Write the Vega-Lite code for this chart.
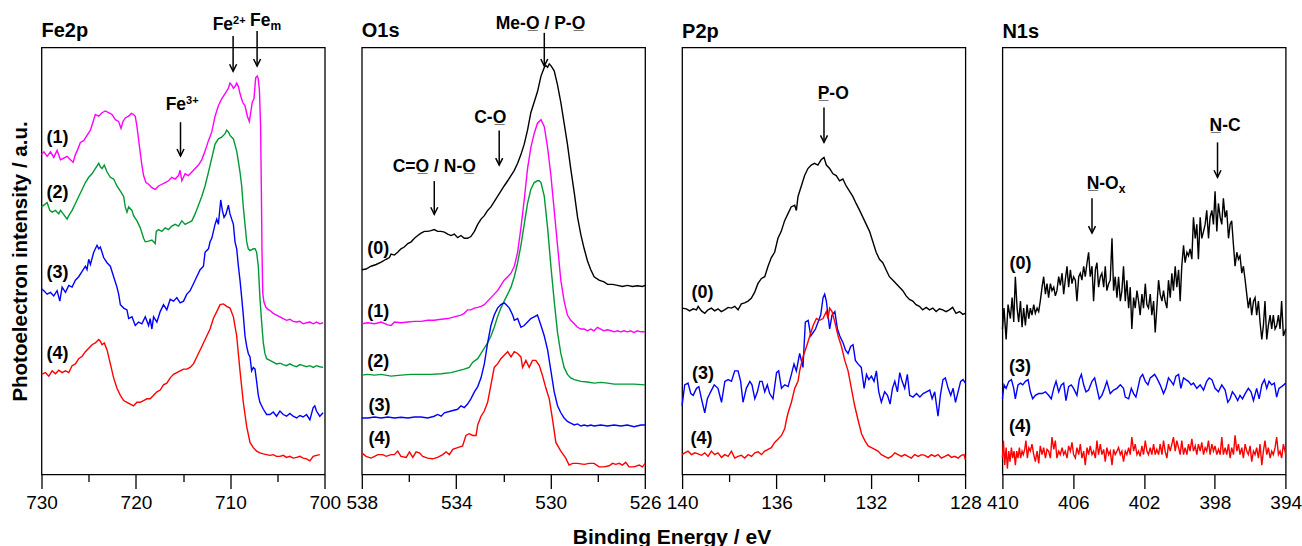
{
"$schema":"https://vega.github.io/schema/vega-lite/v6.json",
"background":"white",
"padding":{"left":9.5,"top":11.5,"right":5,"bottom":0},
"config":{"font":"Liberation Sans","view":{"stroke":"black","strokeWidth":1.3},"title":{"color":"black"},"axis":{"labelColor":"black","titleColor":"black"}},
"title":{"text":"Binding Energy / eV","orient":"bottom","anchor":"middle","fontSize":21,"fontWeight":"bold","offset":14,"dx":16},
"datasets":{
"fe":[
{"s":"1","x":730.00,"y":917},{"s":"1","x":729.75,"y":925},{"s":"1","x":729.40,"y":912},{"s":"1","x":729.05,"y":925},{"s":"1","x":728.70,"y":909},{"s":"1","x":728.35,"y":929},{"s":"1","x":727.99,"y":902},{"s":"1","x":727.64,"y":907},{"s":"1","x":727.29,"y":912},{"s":"1","x":726.94,"y":902},{"s":"1","x":726.65,"y":895},{"s":"1","x":726.41,"y":917},{"s":"1","x":726.16,"y":932},{"s":"1","x":725.88,"y":952},{"s":"1","x":725.53,"y":957},{"s":"1","x":725.18,"y":972},{"s":"1","x":724.82,"y":987},{"s":"1","x":724.47,"y":1017},{"s":"1","x":724.30,"y":1032},{"s":"1","x":723.94,"y":1027},{"s":"1","x":723.59,"y":1037},{"s":"1","x":723.24,"y":1042},{"s":"1","x":722.89,"y":1037},{"s":"1","x":722.54,"y":1032},{"s":"1","x":722.18,"y":1017},{"s":"1","x":721.83,"y":1012},{"s":"1","x":721.58,"y":992},{"s":"1","x":721.37,"y":1012},{"s":"1","x":721.13,"y":1022},{"s":"1","x":720.77,"y":1027},{"s":"1","x":720.49,"y":1035},{"s":"1","x":720.25,"y":1032},{"s":"1","x":720.07,"y":1027},{"s":"1","x":719.89,"y":997},{"s":"1","x":719.61,"y":937},{"s":"1","x":719.37,"y":887},{"s":"1","x":719.19,"y":857},{"s":"1","x":718.94,"y":837},{"s":"1","x":718.66,"y":832},{"s":"1","x":718.31,"y":822},{"s":"1","x":717.96,"y":817},{"s":"1","x":717.61,"y":827},{"s":"1","x":717.25,"y":832},{"s":"1","x":716.90,"y":837},{"s":"1","x":716.55,"y":842},{"s":"1","x":716.20,"y":852},{"s":"1","x":715.85,"y":847},{"s":"1","x":715.49,"y":857},{"s":"1","x":715.32,"y":872},{"s":"1","x":715.14,"y":842},{"s":"1","x":714.79,"y":862},{"s":"1","x":714.44,"y":857},{"s":"1","x":714.08,"y":867},{"s":"1","x":713.73,"y":877},{"s":"1","x":713.38,"y":887},{"s":"1","x":713.03,"y":902},{"s":"1","x":712.68,"y":927},{"s":"1","x":712.32,"y":957},{"s":"1","x":711.97,"y":982},{"s":"1","x":711.62,"y":1027},{"s":"1","x":711.27,"y":1057},{"s":"1","x":710.92,"y":1077},{"s":"1","x":710.56,"y":1092},{"s":"1","x":710.21,"y":1107},{"s":"1","x":710.04,"y":1122},{"s":"1","x":709.86,"y":1117},{"s":"1","x":709.68,"y":1107},{"s":"1","x":709.51,"y":1112},{"s":"1","x":709.33,"y":1122},{"s":"1","x":709.15,"y":1112},{"s":"1","x":708.98,"y":1092},{"s":"1","x":708.70,"y":1067},{"s":"1","x":708.45,"y":1057},{"s":"1","x":708.20,"y":1027},{"s":"1","x":707.99,"y":1012},{"s":"1","x":707.85,"y":1037},{"s":"1","x":707.68,"y":1067},{"s":"1","x":707.50,"y":1077},{"s":"1","x":707.32,"y":1137},{"s":"1","x":707.15,"y":1142},{"s":"1","x":707.05,"y":1135},{"s":"1","x":706.92,"y":1100},{"s":"1","x":706.80,"y":1000},{"s":"1","x":706.72,"y":820},{"s":"1","x":706.65,"y":640},{"s":"1","x":706.57,"y":520},{"s":"1","x":706.45,"y":495},{"s":"1","x":706.25,"y":480},{"s":"1","x":706.05,"y":474},{"s":"1","x":705.81,"y":470},{"s":"1","x":705.46,"y":462},{"s":"1","x":705.11,"y":457},{"s":"1","x":704.75,"y":452},{"s":"1","x":704.40,"y":447},{"s":"1","x":704.05,"y":442},{"s":"1","x":703.70,"y":445},{"s":"1","x":703.35,"y":439},{"s":"1","x":702.99,"y":437},{"s":"1","x":702.64,"y":439},{"s":"1","x":702.29,"y":432},{"s":"1","x":701.94,"y":435},{"s":"1","x":701.58,"y":437},{"s":"1","x":701.23,"y":432},{"s":"1","x":700.88,"y":437},{"s":"1","x":700.53,"y":432},{"s":"1","x":700.18,"y":435},
{"s":"2","x":730.00,"y":767},{"s":"2","x":729.75,"y":772},{"s":"2","x":729.40,"y":779},{"s":"2","x":729.12,"y":757},{"s":"2","x":728.87,"y":752},{"s":"2","x":728.52,"y":757},{"s":"2","x":728.17,"y":747},{"s":"2","x":727.99,"y":757},{"s":"2","x":727.64,"y":745},{"s":"2","x":727.29,"y":732},{"s":"2","x":727.11,"y":742},{"s":"2","x":726.76,"y":757},{"s":"2","x":726.41,"y":777},{"s":"2","x":726.06,"y":797},{"s":"2","x":725.70,"y":817},{"s":"2","x":725.35,"y":837},{"s":"2","x":725.00,"y":852},{"s":"2","x":724.65,"y":862},{"s":"2","x":724.30,"y":877},{"s":"2","x":723.94,"y":892},{"s":"2","x":723.77,"y":882},{"s":"2","x":723.59,"y":877},{"s":"2","x":723.35,"y":887},{"s":"2","x":723.06,"y":867},{"s":"2","x":722.71,"y":852},{"s":"2","x":722.36,"y":847},{"s":"2","x":722.01,"y":827},{"s":"2","x":721.65,"y":812},{"s":"2","x":721.30,"y":797},{"s":"2","x":721.13,"y":767},{"s":"2","x":720.95,"y":752},{"s":"2","x":720.77,"y":767},{"s":"2","x":720.42,"y":757},{"s":"2","x":720.25,"y":742},{"s":"2","x":719.89,"y":727},{"s":"2","x":719.54,"y":707},{"s":"2","x":719.19,"y":677},{"s":"2","x":719.01,"y":667},{"s":"2","x":718.66,"y":669},{"s":"2","x":718.31,"y":672},{"s":"2","x":717.96,"y":662},{"s":"2","x":717.85,"y":697},{"s":"2","x":717.61,"y":702},{"s":"2","x":717.25,"y":697},{"s":"2","x":716.90,"y":707},{"s":"2","x":716.55,"y":702},{"s":"2","x":716.20,"y":712},{"s":"2","x":715.85,"y":717},{"s":"2","x":715.49,"y":712},{"s":"2","x":715.14,"y":727},{"s":"2","x":714.79,"y":717},{"s":"2","x":714.44,"y":722},{"s":"2","x":714.08,"y":727},{"s":"2","x":713.73,"y":747},{"s":"2","x":713.38,"y":772},{"s":"2","x":713.03,"y":797},{"s":"2","x":712.68,"y":827},{"s":"2","x":712.32,"y":867},{"s":"2","x":711.97,"y":907},{"s":"2","x":711.62,"y":947},{"s":"2","x":711.27,"y":962},{"s":"2","x":710.92,"y":967},{"s":"2","x":710.56,"y":977},{"s":"2","x":710.39,"y":987},{"s":"2","x":710.21,"y":982},{"s":"2","x":710.04,"y":972},{"s":"2","x":709.68,"y":962},{"s":"2","x":709.33,"y":927},{"s":"2","x":709.15,"y":897},{"s":"2","x":708.98,"y":867},{"s":"2","x":708.80,"y":827},{"s":"2","x":708.63,"y":767},{"s":"2","x":708.45,"y":717},{"s":"2","x":708.27,"y":667},{"s":"2","x":708.10,"y":647},{"s":"2","x":707.92,"y":642},{"s":"2","x":707.57,"y":647},{"s":"2","x":707.39,"y":647},{"s":"2","x":707.22,"y":637},{"s":"2","x":707.04,"y":597},{"s":"2","x":706.87,"y":507},{"s":"2","x":706.69,"y":437},{"s":"2","x":706.51,"y":377},{"s":"2","x":706.34,"y":347},{"s":"2","x":706.16,"y":332},{"s":"2","x":705.81,"y":327},{"s":"2","x":705.46,"y":322},{"s":"2","x":705.11,"y":317},{"s":"2","x":704.75,"y":319},{"s":"2","x":704.40,"y":315},{"s":"2","x":704.05,"y":312},{"s":"2","x":703.70,"y":317},{"s":"2","x":703.35,"y":312},{"s":"2","x":702.99,"y":309},{"s":"2","x":702.64,"y":315},{"s":"2","x":702.29,"y":312},{"s":"2","x":701.94,"y":309},{"s":"2","x":701.58,"y":312},{"s":"2","x":701.23,"y":307},{"s":"2","x":700.88,"y":312},{"s":"2","x":700.53,"y":309},{"s":"2","x":700.18,"y":307},
{"s":"3","x":730.00,"y":532},{"s":"3","x":729.75,"y":527},{"s":"3","x":729.40,"y":517},{"s":"3","x":729.05,"y":522},{"s":"3","x":728.70,"y":512},{"s":"3","x":728.35,"y":527},{"s":"3","x":728.06,"y":497},{"s":"3","x":727.82,"y":537},{"s":"3","x":727.46,"y":522},{"s":"3","x":727.11,"y":542},{"s":"3","x":726.76,"y":537},{"s":"3","x":726.41,"y":557},{"s":"3","x":726.06,"y":567},{"s":"3","x":725.70,"y":582},{"s":"3","x":725.35,"y":597},{"s":"3","x":725.18,"y":587},{"s":"3","x":725.00,"y":617},{"s":"3","x":724.82,"y":602},{"s":"3","x":724.47,"y":637},{"s":"3","x":724.12,"y":657},{"s":"3","x":723.94,"y":647},{"s":"3","x":723.77,"y":652},{"s":"3","x":723.59,"y":637},{"s":"3","x":723.42,"y":622},{"s":"3","x":723.06,"y":607},{"s":"3","x":722.71,"y":597},{"s":"3","x":722.36,"y":567},{"s":"3","x":722.01,"y":537},{"s":"3","x":721.83,"y":517},{"s":"3","x":721.65,"y":487},{"s":"3","x":721.30,"y":477},{"s":"3","x":720.95,"y":472},{"s":"3","x":720.77,"y":447},{"s":"3","x":720.42,"y":452},{"s":"3","x":720.07,"y":427},{"s":"3","x":719.72,"y":437},{"s":"3","x":719.37,"y":432},{"s":"3","x":719.01,"y":452},{"s":"3","x":718.66,"y":427},{"s":"3","x":718.49,"y":447},{"s":"3","x":718.31,"y":417},{"s":"3","x":718.13,"y":452},{"s":"3","x":717.78,"y":437},{"s":"3","x":717.43,"y":467},{"s":"3","x":717.08,"y":487},{"s":"3","x":716.73,"y":472},{"s":"3","x":716.37,"y":502},{"s":"3","x":716.02,"y":497},{"s":"3","x":715.67,"y":507},{"s":"3","x":715.32,"y":492},{"s":"3","x":714.96,"y":497},{"s":"3","x":714.61,"y":517},{"s":"3","x":714.26,"y":527},{"s":"3","x":713.91,"y":547},{"s":"3","x":713.56,"y":567},{"s":"3","x":713.20,"y":587},{"s":"3","x":712.85,"y":597},{"s":"3","x":712.68,"y":637},{"s":"3","x":712.32,"y":647},{"s":"3","x":712.15,"y":667},{"s":"3","x":711.97,"y":677},{"s":"3","x":711.62,"y":717},{"s":"3","x":711.44,"y":732},{"s":"3","x":711.27,"y":717},{"s":"3","x":711.02,"y":787},{"s":"3","x":710.85,"y":757},{"s":"3","x":710.67,"y":737},{"s":"3","x":710.46,"y":747},{"s":"3","x":710.21,"y":772},{"s":"3","x":710.04,"y":747},{"s":"3","x":709.86,"y":732},{"s":"3","x":709.68,"y":717},{"s":"3","x":709.51,"y":667},{"s":"3","x":709.33,"y":647},{"s":"3","x":709.15,"y":597},{"s":"3","x":708.98,"y":557},{"s":"3","x":708.80,"y":507},{"s":"3","x":708.63,"y":457},{"s":"3","x":708.45,"y":397},{"s":"3","x":708.27,"y":367},{"s":"3","x":708.10,"y":347},{"s":"3","x":707.92,"y":337},{"s":"3","x":707.75,"y":297},{"s":"3","x":707.57,"y":307},{"s":"3","x":707.39,"y":302},{"s":"3","x":707.22,"y":267},{"s":"3","x":707.04,"y":227},{"s":"3","x":706.87,"y":207},{"s":"3","x":706.51,"y":187},{"s":"3","x":706.16,"y":172},{"s":"3","x":705.81,"y":172},{"s":"3","x":705.46,"y":179},{"s":"3","x":705.11,"y":167},{"s":"3","x":704.75,"y":182},{"s":"3","x":704.40,"y":172},{"s":"3","x":704.05,"y":167},{"s":"3","x":703.70,"y":175},{"s":"3","x":703.35,"y":167},{"s":"3","x":702.99,"y":162},{"s":"3","x":702.64,"y":169},{"s":"3","x":702.29,"y":165},{"s":"3","x":701.94,"y":172},{"s":"3","x":701.58,"y":157},{"s":"3","x":701.23,"y":192},{"s":"3","x":701.06,"y":197},{"s":"3","x":700.88,"y":182},{"s":"3","x":700.53,"y":167},{"s":"3","x":700.18,"y":177},
{"s":"4","x":730.00,"y":287},{"s":"4","x":729.58,"y":292},{"s":"4","x":729.23,"y":282},{"s":"4","x":728.87,"y":297},{"s":"4","x":728.52,"y":289},{"s":"4","x":728.17,"y":299},{"s":"4","x":727.82,"y":292},{"s":"4","x":727.46,"y":297},{"s":"4","x":727.11,"y":292},{"s":"4","x":726.76,"y":312},{"s":"4","x":726.41,"y":317},{"s":"4","x":726.06,"y":332},{"s":"4","x":725.70,"y":339},{"s":"4","x":725.35,"y":352},{"s":"4","x":725.00,"y":362},{"s":"4","x":724.65,"y":372},{"s":"4","x":724.30,"y":377},{"s":"4","x":723.94,"y":387},{"s":"4","x":723.77,"y":382},{"s":"4","x":723.59,"y":372},{"s":"4","x":723.35,"y":377},{"s":"4","x":723.06,"y":357},{"s":"4","x":722.71,"y":317},{"s":"4","x":722.36,"y":277},{"s":"4","x":722.01,"y":247},{"s":"4","x":721.65,"y":227},{"s":"4","x":721.30,"y":212},{"s":"4","x":720.95,"y":207},{"s":"4","x":720.60,"y":202},{"s":"4","x":720.25,"y":197},{"s":"4","x":719.89,"y":207},{"s":"4","x":719.54,"y":207},{"s":"4","x":719.19,"y":212},{"s":"4","x":718.84,"y":217},{"s":"4","x":718.49,"y":217},{"s":"4","x":718.13,"y":227},{"s":"4","x":717.78,"y":237},{"s":"4","x":717.43,"y":242},{"s":"4","x":717.08,"y":257},{"s":"4","x":716.73,"y":262},{"s":"4","x":716.37,"y":277},{"s":"4","x":716.02,"y":287},{"s":"4","x":715.67,"y":292},{"s":"4","x":715.32,"y":297},{"s":"4","x":714.96,"y":302},{"s":"4","x":714.61,"y":302},{"s":"4","x":714.26,"y":307},{"s":"4","x":713.91,"y":317},{"s":"4","x":713.56,"y":337},{"s":"4","x":713.20,"y":357},{"s":"4","x":712.85,"y":377},{"s":"4","x":712.50,"y":397},{"s":"4","x":712.15,"y":417},{"s":"4","x":711.80,"y":447},{"s":"4","x":711.44,"y":467},{"s":"4","x":711.09,"y":487},{"s":"4","x":710.74,"y":489},{"s":"4","x":710.39,"y":482},{"s":"4","x":710.04,"y":477},{"s":"4","x":709.68,"y":452},{"s":"4","x":709.33,"y":397},{"s":"4","x":708.98,"y":297},{"s":"4","x":708.63,"y":207},{"s":"4","x":708.27,"y":137},{"s":"4","x":707.92,"y":92},{"s":"4","x":707.57,"y":77},{"s":"4","x":707.22,"y":67},{"s":"4","x":706.87,"y":62},{"s":"4","x":706.51,"y":59},{"s":"4","x":706.16,"y":57},{"s":"4","x":705.81,"y":55},{"s":"4","x":705.46,"y":57},{"s":"4","x":705.11,"y":52},{"s":"4","x":704.75,"y":52},{"s":"4","x":704.40,"y":55},{"s":"4","x":704.05,"y":49},{"s":"4","x":703.70,"y":52},{"s":"4","x":703.35,"y":47},{"s":"4","x":702.99,"y":49},{"s":"4","x":702.64,"y":52},{"s":"4","x":702.29,"y":47},{"s":"4","x":701.94,"y":45},{"s":"4","x":701.58,"y":39},{"s":"4","x":701.23,"y":52},{"s":"4","x":700.88,"y":55},{"s":"4","x":700.53,"y":57}
],
"o":[
{"s":"0","x":538.00,"y":587},{"s":"0","x":537.82,"y":589},{"s":"0","x":537.61,"y":597},{"s":"0","x":537.39,"y":602},{"s":"0","x":537.18,"y":609},{"s":"0","x":536.97,"y":617},{"s":"0","x":536.83,"y":622},{"s":"0","x":536.76,"y":632},{"s":"0","x":536.62,"y":629},{"s":"0","x":536.48,"y":637},{"s":"0","x":536.34,"y":647},{"s":"0","x":536.20,"y":652},{"s":"0","x":536.05,"y":662},{"s":"0","x":535.91,"y":667},{"s":"0","x":535.77,"y":677},{"s":"0","x":535.63,"y":685},{"s":"0","x":535.49,"y":692},{"s":"0","x":535.35,"y":697},{"s":"0","x":535.21,"y":697},{"s":"0","x":535.07,"y":699},{"s":"0","x":534.93,"y":702},{"s":"0","x":534.79,"y":697},{"s":"0","x":534.64,"y":697},{"s":"0","x":534.50,"y":695},{"s":"0","x":534.36,"y":689},{"s":"0","x":534.22,"y":685},{"s":"0","x":534.08,"y":689},{"s":"0","x":533.94,"y":679},{"s":"0","x":533.80,"y":685},{"s":"0","x":533.66,"y":677},{"s":"0","x":533.52,"y":677},{"s":"0","x":533.38,"y":682},{"s":"0","x":533.23,"y":697},{"s":"0","x":533.09,"y":717},{"s":"0","x":532.95,"y":732},{"s":"0","x":532.81,"y":742},{"s":"0","x":532.67,"y":757},{"s":"0","x":532.53,"y":767},{"s":"0","x":532.39,"y":782},{"s":"0","x":532.25,"y":797},{"s":"0","x":532.11,"y":812},{"s":"0","x":531.97,"y":827},{"s":"0","x":531.82,"y":842},{"s":"0","x":531.68,"y":857},{"s":"0","x":531.54,"y":872},{"s":"0","x":531.40,"y":892},{"s":"0","x":531.26,"y":917},{"s":"0","x":531.12,"y":947},{"s":"0","x":530.98,"y":987},{"s":"0","x":530.84,"y":1037},{"s":"0","x":530.70,"y":1067},{"s":"0","x":530.56,"y":1097},{"s":"0","x":530.41,"y":1142},{"s":"0","x":530.27,"y":1167},{"s":"0","x":530.20,"y":1172},{"s":"0","x":530.13,"y":1167},{"s":"0","x":530.06,"y":1177},{"s":"0","x":529.99,"y":1172},{"s":"0","x":529.85,"y":1157},{"s":"0","x":529.71,"y":1117},{"s":"0","x":529.57,"y":1067},{"s":"0","x":529.43,"y":1007},{"s":"0","x":529.29,"y":947},{"s":"0","x":529.15,"y":877},{"s":"0","x":529.00,"y":807},{"s":"0","x":528.86,"y":737},{"s":"0","x":528.72,"y":687},{"s":"0","x":528.58,"y":647},{"s":"0","x":528.44,"y":612},{"s":"0","x":528.30,"y":587},{"s":"0","x":528.16,"y":567},{"s":"0","x":527.95,"y":557},{"s":"0","x":527.74,"y":552},{"s":"0","x":527.59,"y":545},{"s":"0","x":527.38,"y":545},{"s":"0","x":527.17,"y":542},{"s":"0","x":526.96,"y":539},{"s":"0","x":526.75,"y":542},{"s":"0","x":526.54,"y":539},{"s":"0","x":526.33,"y":541},{"s":"0","x":526.11,"y":539},{"s":"0","x":526.00,"y":542},
{"s":"1","x":538.00,"y":432},{"s":"1","x":537.75,"y":435},{"s":"1","x":537.46,"y":432},{"s":"1","x":537.18,"y":437},{"s":"1","x":536.90,"y":429},{"s":"1","x":536.76,"y":427},{"s":"1","x":536.62,"y":437},{"s":"1","x":536.34,"y":435},{"s":"1","x":536.05,"y":437},{"s":"1","x":535.77,"y":439},{"s":"1","x":535.49,"y":439},{"s":"1","x":535.21,"y":442},{"s":"1","x":534.93,"y":442},{"s":"1","x":534.64,"y":445},{"s":"1","x":534.36,"y":447},{"s":"1","x":534.08,"y":452},{"s":"1","x":533.80,"y":457},{"s":"1","x":533.66,"y":462},{"s":"1","x":533.52,"y":472},{"s":"1","x":533.38,"y":472},{"s":"1","x":533.23,"y":477},{"s":"1","x":533.09,"y":479},{"s":"1","x":532.95,"y":482},{"s":"1","x":532.81,"y":487},{"s":"1","x":532.67,"y":497},{"s":"1","x":532.53,"y":507},{"s":"1","x":532.39,"y":517},{"s":"1","x":532.25,"y":527},{"s":"1","x":532.11,"y":542},{"s":"1","x":531.97,"y":557},{"s":"1","x":531.82,"y":567},{"s":"1","x":531.68,"y":577},{"s":"1","x":531.54,"y":597},{"s":"1","x":531.40,"y":637},{"s":"1","x":531.26,"y":707},{"s":"1","x":531.12,"y":787},{"s":"1","x":530.98,"y":877},{"s":"1","x":530.84,"y":937},{"s":"1","x":530.70,"y":977},{"s":"1","x":530.56,"y":1007},{"s":"1","x":530.41,"y":1017},{"s":"1","x":530.27,"y":997},{"s":"1","x":530.13,"y":937},{"s":"1","x":529.99,"y":857},{"s":"1","x":529.85,"y":757},{"s":"1","x":529.71,"y":657},{"s":"1","x":529.57,"y":557},{"s":"1","x":529.43,"y":497},{"s":"1","x":529.29,"y":457},{"s":"1","x":529.15,"y":442},{"s":"1","x":529.00,"y":432},{"s":"1","x":528.86,"y":422},{"s":"1","x":528.72,"y":417},{"s":"1","x":528.58,"y":417},{"s":"1","x":528.44,"y":412},{"s":"1","x":528.30,"y":417},{"s":"1","x":528.16,"y":412},{"s":"1","x":528.02,"y":422},{"s":"1","x":527.88,"y":417},{"s":"1","x":527.74,"y":412},{"s":"1","x":527.59,"y":415},{"s":"1","x":527.45,"y":412},{"s":"1","x":527.31,"y":409},{"s":"1","x":527.17,"y":412},{"s":"1","x":527.03,"y":409},{"s":"1","x":526.89,"y":412},{"s":"1","x":526.75,"y":409},{"s":"1","x":526.61,"y":412},{"s":"1","x":526.47,"y":407},{"s":"1","x":526.33,"y":412},{"s":"1","x":526.18,"y":409},{"s":"1","x":526.00,"y":409},
{"s":"2","x":538.00,"y":285},{"s":"2","x":537.75,"y":287},{"s":"2","x":537.46,"y":285},{"s":"2","x":537.18,"y":287},{"s":"2","x":536.76,"y":282},{"s":"2","x":536.34,"y":285},{"s":"2","x":535.91,"y":287},{"s":"2","x":535.49,"y":287},{"s":"2","x":535.07,"y":287},{"s":"2","x":534.64,"y":289},{"s":"2","x":534.22,"y":292},{"s":"2","x":533.94,"y":297},{"s":"2","x":533.66,"y":302},{"s":"2","x":533.45,"y":307},{"s":"2","x":533.30,"y":322},{"s":"2","x":533.09,"y":332},{"s":"2","x":532.95,"y":347},{"s":"2","x":532.81,"y":362},{"s":"2","x":532.67,"y":377},{"s":"2","x":532.53,"y":397},{"s":"2","x":532.39,"y":422},{"s":"2","x":532.25,"y":452},{"s":"2","x":532.11,"y":477},{"s":"2","x":531.97,"y":497},{"s":"2","x":531.82,"y":517},{"s":"2","x":531.68,"y":537},{"s":"2","x":531.54,"y":567},{"s":"2","x":531.40,"y":607},{"s":"2","x":531.26,"y":657},{"s":"2","x":531.12,"y":717},{"s":"2","x":530.98,"y":777},{"s":"2","x":530.84,"y":817},{"s":"2","x":530.70,"y":837},{"s":"2","x":530.56,"y":842},{"s":"2","x":530.48,"y":842},{"s":"2","x":530.41,"y":837},{"s":"2","x":530.27,"y":797},{"s":"2","x":530.13,"y":707},{"s":"2","x":529.99,"y":597},{"s":"2","x":529.85,"y":497},{"s":"2","x":529.71,"y":407},{"s":"2","x":529.57,"y":347},{"s":"2","x":529.43,"y":307},{"s":"2","x":529.29,"y":287},{"s":"2","x":529.15,"y":277},{"s":"2","x":529.00,"y":272},{"s":"2","x":528.72,"y":267},{"s":"2","x":528.44,"y":265},{"s":"2","x":528.16,"y":262},{"s":"2","x":527.88,"y":264},{"s":"2","x":527.59,"y":262},{"s":"2","x":527.31,"y":259},{"s":"2","x":526.89,"y":259},{"s":"2","x":526.47,"y":259},{"s":"2","x":526.00,"y":257},
{"s":"3","x":538.00,"y":162},{"s":"3","x":537.75,"y":162},{"s":"3","x":537.46,"y":165},{"s":"3","x":537.18,"y":162},{"s":"3","x":536.90,"y":165},{"s":"3","x":536.62,"y":162},{"s":"3","x":536.34,"y":164},{"s":"3","x":536.05,"y":162},{"s":"3","x":535.77,"y":165},{"s":"3","x":535.49,"y":165},{"s":"3","x":535.21,"y":162},{"s":"3","x":534.93,"y":167},{"s":"3","x":534.79,"y":172},{"s":"3","x":534.64,"y":167},{"s":"3","x":534.50,"y":177},{"s":"3","x":534.22,"y":182},{"s":"3","x":533.94,"y":187},{"s":"3","x":533.80,"y":197},{"s":"3","x":533.66,"y":192},{"s":"3","x":533.52,"y":202},{"s":"3","x":533.38,"y":217},{"s":"3","x":533.23,"y":237},{"s":"3","x":533.09,"y":252},{"s":"3","x":532.95,"y":277},{"s":"3","x":532.81,"y":317},{"s":"3","x":532.67,"y":377},{"s":"3","x":532.53,"y":427},{"s":"3","x":532.39,"y":457},{"s":"3","x":532.25,"y":477},{"s":"3","x":532.11,"y":487},{"s":"3","x":531.97,"y":492},{"s":"3","x":531.89,"y":487},{"s":"3","x":531.75,"y":477},{"s":"3","x":531.61,"y":457},{"s":"3","x":531.54,"y":442},{"s":"3","x":531.40,"y":447},{"s":"3","x":531.26,"y":422},{"s":"3","x":531.12,"y":427},{"s":"3","x":530.98,"y":437},{"s":"3","x":530.84,"y":447},{"s":"3","x":530.70,"y":452},{"s":"3","x":530.56,"y":457},{"s":"3","x":530.41,"y":427},{"s":"3","x":530.27,"y":397},{"s":"3","x":530.13,"y":357},{"s":"3","x":529.99,"y":297},{"s":"3","x":529.85,"y":237},{"s":"3","x":529.71,"y":197},{"s":"3","x":529.57,"y":177},{"s":"3","x":529.43,"y":162},{"s":"3","x":529.29,"y":152},{"s":"3","x":529.15,"y":147},{"s":"3","x":529.00,"y":142},{"s":"3","x":528.86,"y":145},{"s":"3","x":528.72,"y":139},{"s":"3","x":528.58,"y":142},{"s":"3","x":528.44,"y":139},{"s":"3","x":528.30,"y":142},{"s":"3","x":528.16,"y":139},{"s":"3","x":527.88,"y":142},{"s":"3","x":527.59,"y":139},{"s":"3","x":527.31,"y":142},{"s":"3","x":527.03,"y":139},{"s":"3","x":526.75,"y":142},{"s":"3","x":526.47,"y":137},{"s":"3","x":526.18,"y":142},{"s":"3","x":526.00,"y":142},
{"s":"4","x":538.00,"y":62},{"s":"4","x":537.82,"y":52},{"s":"4","x":537.61,"y":47},{"s":"4","x":537.46,"y":52},{"s":"4","x":537.32,"y":57},{"s":"4","x":537.11,"y":57},{"s":"4","x":536.97,"y":52},{"s":"4","x":536.76,"y":57},{"s":"4","x":536.62,"y":57},{"s":"4","x":536.48,"y":67},{"s":"4","x":536.34,"y":52},{"s":"4","x":536.12,"y":49},{"s":"4","x":535.98,"y":65},{"s":"4","x":535.84,"y":49},{"s":"4","x":535.70,"y":65},{"s":"4","x":535.56,"y":62},{"s":"4","x":535.42,"y":52},{"s":"4","x":535.21,"y":47},{"s":"4","x":535.00,"y":45},{"s":"4","x":534.79,"y":49},{"s":"4","x":534.57,"y":57},{"s":"4","x":534.43,"y":65},{"s":"4","x":534.29,"y":57},{"s":"4","x":534.15,"y":72},{"s":"4","x":533.94,"y":77},{"s":"4","x":533.73,"y":82},{"s":"4","x":533.59,"y":112},{"s":"4","x":533.45,"y":117},{"s":"4","x":533.30,"y":112},{"s":"4","x":533.16,"y":112},{"s":"4","x":533.09,"y":142},{"s":"4","x":532.95,"y":167},{"s":"4","x":532.81,"y":182},{"s":"4","x":532.67,"y":207},{"s":"4","x":532.53,"y":257},{"s":"4","x":532.39,"y":307},{"s":"4","x":532.25,"y":317},{"s":"4","x":532.11,"y":332},{"s":"4","x":531.97,"y":342},{"s":"4","x":531.82,"y":352},{"s":"4","x":531.68,"y":337},{"s":"4","x":531.54,"y":352},{"s":"4","x":531.40,"y":347},{"s":"4","x":531.26,"y":337},{"s":"4","x":531.19,"y":307},{"s":"4","x":531.05,"y":327},{"s":"4","x":530.91,"y":307},{"s":"4","x":530.77,"y":327},{"s":"4","x":530.63,"y":327},{"s":"4","x":530.48,"y":312},{"s":"4","x":530.34,"y":282},{"s":"4","x":530.20,"y":247},{"s":"4","x":530.06,"y":217},{"s":"4","x":529.92,"y":157},{"s":"4","x":529.78,"y":92},{"s":"4","x":529.57,"y":67},{"s":"4","x":529.36,"y":47},{"s":"4","x":529.22,"y":27},{"s":"4","x":529.07,"y":32},{"s":"4","x":528.86,"y":32},{"s":"4","x":528.58,"y":29},{"s":"4","x":528.37,"y":32},{"s":"4","x":528.16,"y":32},{"s":"4","x":527.95,"y":22},{"s":"4","x":527.74,"y":22},{"s":"4","x":527.52,"y":25},{"s":"4","x":527.38,"y":32},{"s":"4","x":527.24,"y":29},{"s":"4","x":527.10,"y":32},{"s":"4","x":526.96,"y":27},{"s":"4","x":526.82,"y":35},{"s":"4","x":526.68,"y":22},{"s":"4","x":526.47,"y":22},{"s":"4","x":526.25,"y":27},{"s":"4","x":526.11,"y":22},{"s":"4","x":526.00,"y":32}
],
"p":[
{"s":"0","x":140.00,"y":477},{"s":"0","x":139.82,"y":475},{"s":"0","x":139.68,"y":469},{"s":"0","x":139.53,"y":475},{"s":"0","x":139.39,"y":472},{"s":"0","x":139.32,"y":482},{"s":"0","x":139.18,"y":469},{"s":"0","x":139.04,"y":462},{"s":"0","x":138.90,"y":472},{"s":"0","x":138.76,"y":477},{"s":"0","x":138.62,"y":469},{"s":"0","x":138.48,"y":475},{"s":"0","x":138.34,"y":467},{"s":"0","x":138.20,"y":472},{"s":"0","x":138.05,"y":479},{"s":"0","x":137.91,"y":477},{"s":"0","x":137.77,"y":482},{"s":"0","x":137.63,"y":472},{"s":"0","x":137.49,"y":489},{"s":"0","x":137.35,"y":492},{"s":"0","x":137.21,"y":497},{"s":"0","x":137.07,"y":505},{"s":"0","x":136.93,"y":522},{"s":"0","x":136.79,"y":547},{"s":"0","x":136.64,"y":562},{"s":"0","x":136.50,"y":567},{"s":"0","x":136.36,"y":597},{"s":"0","x":136.22,"y":622},{"s":"0","x":136.08,"y":637},{"s":"0","x":135.94,"y":677},{"s":"0","x":135.80,"y":697},{"s":"0","x":135.66,"y":727},{"s":"0","x":135.52,"y":747},{"s":"0","x":135.38,"y":767},{"s":"0","x":135.23,"y":772},{"s":"0","x":135.16,"y":757},{"s":"0","x":135.09,"y":797},{"s":"0","x":134.95,"y":827},{"s":"0","x":134.81,"y":857},{"s":"0","x":134.67,"y":877},{"s":"0","x":134.53,"y":887},{"s":"0","x":134.39,"y":892},{"s":"0","x":134.25,"y":887},{"s":"0","x":134.11,"y":902},{"s":"0","x":133.99,"y":909},{"s":"0","x":133.89,"y":887},{"s":"0","x":133.75,"y":877},{"s":"0","x":133.61,"y":862},{"s":"0","x":133.47,"y":857},{"s":"0","x":133.33,"y":842},{"s":"0","x":133.19,"y":847},{"s":"0","x":133.05,"y":827},{"s":"0","x":132.91,"y":812},{"s":"0","x":132.77,"y":797},{"s":"0","x":132.63,"y":777},{"s":"0","x":132.48,"y":757},{"s":"0","x":132.34,"y":737},{"s":"0","x":132.20,"y":717},{"s":"0","x":132.06,"y":697},{"s":"0","x":131.92,"y":667},{"s":"0","x":131.78,"y":637},{"s":"0","x":131.64,"y":617},{"s":"0","x":131.50,"y":607},{"s":"0","x":131.36,"y":587},{"s":"0","x":131.22,"y":567},{"s":"0","x":131.07,"y":557},{"s":"0","x":130.93,"y":547},{"s":"0","x":130.79,"y":537},{"s":"0","x":130.65,"y":527},{"s":"0","x":130.51,"y":512},{"s":"0","x":130.37,"y":502},{"s":"0","x":130.23,"y":497},{"s":"0","x":130.09,"y":487},{"s":"0","x":129.95,"y":482},{"s":"0","x":129.81,"y":472},{"s":"0","x":129.66,"y":479},{"s":"0","x":129.52,"y":472},{"s":"0","x":129.38,"y":477},{"s":"0","x":129.24,"y":467},{"s":"0","x":129.10,"y":475},{"s":"0","x":128.96,"y":472},{"s":"0","x":128.82,"y":467},{"s":"0","x":128.68,"y":472},{"s":"0","x":128.54,"y":479},{"s":"0","x":128.40,"y":462},{"s":"0","x":128.25,"y":467},{"s":"0","x":128.11,"y":459},{"s":"0","x":128.00,"y":462},
{"s":"3","x":140.00,"y":197},{"s":"3","x":139.89,"y":257},{"s":"3","x":139.75,"y":262},{"s":"3","x":139.63,"y":232},{"s":"3","x":139.53,"y":227},{"s":"3","x":139.39,"y":247},{"s":"3","x":139.29,"y":252},{"s":"3","x":139.18,"y":217},{"s":"3","x":139.04,"y":177},{"s":"3","x":138.93,"y":217},{"s":"3","x":138.79,"y":237},{"s":"3","x":138.64,"y":257},{"s":"3","x":138.48,"y":247},{"s":"3","x":138.33,"y":207},{"s":"3","x":138.19,"y":267},{"s":"3","x":138.05,"y":272},{"s":"3","x":137.91,"y":267},{"s":"3","x":137.77,"y":297},{"s":"3","x":137.63,"y":297},{"s":"3","x":137.52,"y":267},{"s":"3","x":137.42,"y":207},{"s":"3","x":137.28,"y":247},{"s":"3","x":137.13,"y":267},{"s":"3","x":137.04,"y":257},{"s":"3","x":136.92,"y":217},{"s":"3","x":136.81,"y":237},{"s":"3","x":136.71,"y":267},{"s":"3","x":136.61,"y":267},{"s":"3","x":136.50,"y":237},{"s":"3","x":136.39,"y":257},{"s":"3","x":136.29,"y":232},{"s":"3","x":136.15,"y":217},{"s":"3","x":136.00,"y":292},{"s":"3","x":135.91,"y":297},{"s":"3","x":135.79,"y":247},{"s":"3","x":135.65,"y":257},{"s":"3","x":135.51,"y":252},{"s":"3","x":135.37,"y":287},{"s":"3","x":135.26,"y":317},{"s":"3","x":135.16,"y":297},{"s":"3","x":135.02,"y":347},{"s":"3","x":134.88,"y":307},{"s":"3","x":134.78,"y":437},{"s":"3","x":134.66,"y":442},{"s":"3","x":134.55,"y":397},{"s":"3","x":134.45,"y":407},{"s":"3","x":134.35,"y":417},{"s":"3","x":134.24,"y":437},{"s":"3","x":134.13,"y":457},{"s":"3","x":134.03,"y":507},{"s":"3","x":133.96,"y":517},{"s":"3","x":133.89,"y":497},{"s":"3","x":133.82,"y":457},{"s":"3","x":133.75,"y":417},{"s":"3","x":133.65,"y":457},{"s":"3","x":133.53,"y":467},{"s":"3","x":133.42,"y":417},{"s":"3","x":133.32,"y":397},{"s":"3","x":133.18,"y":377},{"s":"3","x":133.08,"y":357},{"s":"3","x":132.97,"y":347},{"s":"3","x":132.86,"y":367},{"s":"3","x":132.76,"y":372},{"s":"3","x":132.66,"y":327},{"s":"3","x":132.55,"y":317},{"s":"3","x":132.41,"y":307},{"s":"3","x":132.29,"y":247},{"s":"3","x":132.19,"y":287},{"s":"3","x":132.09,"y":272},{"s":"3","x":131.98,"y":282},{"s":"3","x":131.87,"y":267},{"s":"3","x":131.77,"y":297},{"s":"3","x":131.67,"y":237},{"s":"3","x":131.56,"y":207},{"s":"3","x":131.42,"y":237},{"s":"3","x":131.30,"y":227},{"s":"3","x":131.19,"y":202},{"s":"3","x":131.09,"y":247},{"s":"3","x":130.99,"y":267},{"s":"3","x":130.88,"y":237},{"s":"3","x":130.78,"y":292},{"s":"3","x":130.68,"y":267},{"s":"3","x":130.57,"y":247},{"s":"3","x":130.46,"y":287},{"s":"3","x":130.36,"y":227},{"s":"3","x":130.22,"y":222},{"s":"3","x":130.07,"y":232},{"s":"3","x":129.93,"y":222},{"s":"3","x":129.79,"y":232},{"s":"3","x":129.65,"y":237},{"s":"3","x":129.51,"y":242},{"s":"3","x":129.41,"y":217},{"s":"3","x":129.30,"y":237},{"s":"3","x":129.16,"y":167},{"s":"3","x":129.06,"y":227},{"s":"3","x":128.95,"y":272},{"s":"3","x":128.85,"y":277},{"s":"3","x":128.73,"y":247},{"s":"3","x":128.62,"y":227},{"s":"3","x":128.52,"y":247},{"s":"3","x":128.42,"y":207},{"s":"3","x":128.31,"y":237},{"s":"3","x":128.20,"y":267},{"s":"3","x":128.10,"y":272},{"s":"3","x":128.00,"y":262},
{"s":"4","x":140.00,"y":57},{"s":"4","x":139.89,"y":62},{"s":"4","x":139.75,"y":67},{"s":"4","x":139.60,"y":57},{"s":"4","x":139.46,"y":62},{"s":"4","x":139.32,"y":59},{"s":"4","x":139.18,"y":55},{"s":"4","x":139.04,"y":62},{"s":"4","x":138.90,"y":52},{"s":"4","x":138.76,"y":67},{"s":"4","x":138.62,"y":57},{"s":"4","x":138.48,"y":62},{"s":"4","x":138.33,"y":49},{"s":"4","x":138.19,"y":57},{"s":"4","x":138.05,"y":52},{"s":"4","x":137.91,"y":67},{"s":"4","x":137.77,"y":47},{"s":"4","x":137.63,"y":52},{"s":"4","x":137.49,"y":55},{"s":"4","x":137.35,"y":47},{"s":"4","x":137.20,"y":57},{"s":"4","x":137.06,"y":52},{"s":"4","x":136.92,"y":62},{"s":"4","x":136.78,"y":65},{"s":"4","x":136.64,"y":57},{"s":"4","x":136.50,"y":67},{"s":"4","x":136.36,"y":72},{"s":"4","x":136.22,"y":77},{"s":"4","x":136.08,"y":92},{"s":"4","x":135.93,"y":102},{"s":"4","x":135.79,"y":112},{"s":"4","x":135.65,"y":132},{"s":"4","x":135.58,"y":157},{"s":"4","x":135.51,"y":177},{"s":"4","x":135.37,"y":207},{"s":"4","x":135.23,"y":247},{"s":"4","x":135.09,"y":267},{"s":"4","x":135.02,"y":297},{"s":"4","x":134.88,"y":337},{"s":"4","x":134.73,"y":367},{"s":"4","x":134.59,"y":397},{"s":"4","x":134.45,"y":427},{"s":"4","x":134.31,"y":447},{"s":"4","x":134.17,"y":442},{"s":"4","x":134.03,"y":447},{"s":"4","x":133.96,"y":457},{"s":"4","x":133.89,"y":467},{"s":"4","x":133.82,"y":447},{"s":"4","x":133.75,"y":477},{"s":"4","x":133.65,"y":467},{"s":"4","x":133.53,"y":437},{"s":"4","x":133.39,"y":397},{"s":"4","x":133.25,"y":367},{"s":"4","x":133.11,"y":327},{"s":"4","x":132.97,"y":297},{"s":"4","x":132.83,"y":247},{"s":"4","x":132.69,"y":197},{"s":"4","x":132.55,"y":157},{"s":"4","x":132.40,"y":117},{"s":"4","x":132.26,"y":97},{"s":"4","x":132.12,"y":82},{"s":"4","x":131.98,"y":77},{"s":"4","x":131.84,"y":72},{"s":"4","x":131.70,"y":67},{"s":"4","x":131.56,"y":57},{"s":"4","x":131.42,"y":52},{"s":"4","x":131.27,"y":47},{"s":"4","x":131.13,"y":52},{"s":"4","x":130.99,"y":62},{"s":"4","x":130.85,"y":57},{"s":"4","x":130.71,"y":52},{"s":"4","x":130.57,"y":57},{"s":"4","x":130.43,"y":52},{"s":"4","x":130.29,"y":47},{"s":"4","x":130.15,"y":57},{"s":"4","x":130.00,"y":52},{"s":"4","x":129.86,"y":57},{"s":"4","x":129.72,"y":55},{"s":"4","x":129.58,"y":49},{"s":"4","x":129.44,"y":57},{"s":"4","x":129.30,"y":52},{"s":"4","x":129.16,"y":57},{"s":"4","x":129.02,"y":47},{"s":"4","x":128.87,"y":52},{"s":"4","x":128.73,"y":57},{"s":"4","x":128.59,"y":49},{"s":"4","x":128.45,"y":52},{"s":"4","x":128.31,"y":47},{"s":"4","x":128.17,"y":55},{"s":"4","x":128.06,"y":57},{"s":"4","x":128.00,"y":42}
],
"n":[
{"s":"0","x":410.00,"y":417},{"s":"0","x":409.91,"y":477},{"s":"0","x":409.79,"y":387},{"s":"0","x":409.68,"y":487},{"s":"0","x":409.55,"y":447},{"s":"0","x":409.45,"y":507},{"s":"0","x":409.36,"y":437},{"s":"0","x":409.27,"y":567},{"s":"0","x":409.17,"y":477},{"s":"0","x":409.08,"y":437},{"s":"0","x":408.98,"y":497},{"s":"0","x":408.89,"y":422},{"s":"0","x":408.80,"y":477},{"s":"0","x":408.70,"y":427},{"s":"0","x":408.61,"y":487},{"s":"0","x":408.51,"y":447},{"s":"0","x":408.42,"y":477},{"s":"0","x":408.33,"y":457},{"s":"0","x":408.23,"y":487},{"s":"0","x":408.14,"y":462},{"s":"0","x":408.04,"y":477},{"s":"0","x":407.95,"y":467},{"s":"0","x":407.86,"y":497},{"s":"0","x":407.76,"y":537},{"s":"0","x":407.67,"y":567},{"s":"0","x":407.57,"y":517},{"s":"0","x":407.48,"y":547},{"s":"0","x":407.39,"y":507},{"s":"0","x":407.29,"y":547},{"s":"0","x":407.20,"y":527},{"s":"0","x":407.10,"y":537},{"s":"0","x":407.01,"y":512},{"s":"0","x":406.92,"y":527},{"s":"0","x":406.82,"y":567},{"s":"0","x":406.73,"y":542},{"s":"0","x":406.63,"y":577},{"s":"0","x":406.54,"y":517},{"s":"0","x":406.45,"y":557},{"s":"0","x":406.35,"y":597},{"s":"0","x":406.26,"y":537},{"s":"0","x":406.16,"y":587},{"s":"0","x":406.07,"y":547},{"s":"0","x":405.98,"y":567},{"s":"0","x":405.88,"y":557},{"s":"0","x":405.79,"y":497},{"s":"0","x":405.69,"y":567},{"s":"0","x":405.60,"y":577},{"s":"0","x":405.51,"y":557},{"s":"0","x":405.41,"y":597},{"s":"0","x":405.32,"y":567},{"s":"0","x":405.22,"y":607},{"s":"0","x":405.13,"y":637},{"s":"0","x":405.04,"y":567},{"s":"0","x":404.94,"y":597},{"s":"0","x":404.85,"y":497},{"s":"0","x":404.75,"y":587},{"s":"0","x":404.66,"y":607},{"s":"0","x":404.57,"y":537},{"s":"0","x":404.47,"y":567},{"s":"0","x":404.38,"y":577},{"s":"0","x":404.28,"y":537},{"s":"0","x":404.19,"y":597},{"s":"0","x":404.10,"y":527},{"s":"0","x":404.00,"y":547},{"s":"0","x":403.91,"y":557},{"s":"0","x":403.81,"y":677},{"s":"0","x":403.72,"y":527},{"s":"0","x":403.63,"y":567},{"s":"0","x":403.53,"y":507},{"s":"0","x":403.44,"y":567},{"s":"0","x":403.34,"y":497},{"s":"0","x":403.25,"y":527},{"s":"0","x":403.16,"y":597},{"s":"0","x":403.06,"y":497},{"s":"0","x":402.97,"y":557},{"s":"0","x":402.87,"y":477},{"s":"0","x":402.78,"y":537},{"s":"0","x":402.69,"y":417},{"s":"0","x":402.59,"y":507},{"s":"0","x":402.50,"y":477},{"s":"0","x":402.40,"y":527},{"s":"0","x":402.31,"y":497},{"s":"0","x":402.22,"y":457},{"s":"0","x":402.12,"y":517},{"s":"0","x":402.03,"y":477},{"s":"0","x":401.93,"y":547},{"s":"0","x":401.84,"y":487},{"s":"0","x":401.75,"y":477},{"s":"0","x":401.65,"y":517},{"s":"0","x":401.56,"y":457},{"s":"0","x":401.46,"y":497},{"s":"0","x":401.37,"y":407},{"s":"0","x":401.28,"y":477},{"s":"0","x":401.18,"y":557},{"s":"0","x":401.09,"y":517},{"s":"0","x":400.99,"y":497},{"s":"0","x":400.90,"y":527},{"s":"0","x":400.81,"y":497},{"s":"0","x":400.71,"y":477},{"s":"0","x":400.62,"y":557},{"s":"0","x":400.52,"y":507},{"s":"0","x":400.43,"y":577},{"s":"0","x":400.34,"y":527},{"s":"0","x":400.24,"y":597},{"s":"0","x":400.15,"y":537},{"s":"0","x":400.05,"y":587},{"s":"0","x":399.96,"y":497},{"s":"0","x":399.87,"y":597},{"s":"0","x":399.77,"y":657},{"s":"0","x":399.68,"y":607},{"s":"0","x":399.58,"y":637},{"s":"0","x":399.49,"y":627},{"s":"0","x":399.40,"y":647},{"s":"0","x":399.30,"y":617},{"s":"0","x":399.21,"y":737},{"s":"0","x":399.11,"y":677},{"s":"0","x":399.02,"y":717},{"s":"0","x":398.93,"y":617},{"s":"0","x":398.83,"y":737},{"s":"0","x":398.74,"y":677},{"s":"0","x":398.64,"y":697},{"s":"0","x":398.55,"y":717},{"s":"0","x":398.46,"y":757},{"s":"0","x":398.36,"y":677},{"s":"0","x":398.27,"y":737},{"s":"0","x":398.17,"y":757},{"s":"0","x":398.08,"y":717},{"s":"0","x":397.99,"y":812},{"s":"0","x":397.89,"y":697},{"s":"0","x":397.80,"y":777},{"s":"0","x":397.70,"y":737},{"s":"0","x":397.61,"y":717},{"s":"0","x":397.52,"y":792},{"s":"0","x":397.42,"y":737},{"s":"0","x":397.33,"y":757},{"s":"0","x":397.23,"y":677},{"s":"0","x":397.14,"y":717},{"s":"0","x":397.05,"y":727},{"s":"0","x":396.95,"y":657},{"s":"0","x":396.86,"y":597},{"s":"0","x":396.76,"y":637},{"s":"0","x":396.67,"y":617},{"s":"0","x":396.58,"y":627},{"s":"0","x":396.48,"y":577},{"s":"0","x":396.39,"y":597},{"s":"0","x":396.29,"y":557},{"s":"0","x":396.20,"y":517},{"s":"0","x":396.11,"y":477},{"s":"0","x":396.01,"y":507},{"s":"0","x":395.92,"y":457},{"s":"0","x":395.82,"y":497},{"s":"0","x":395.73,"y":507},{"s":"0","x":395.64,"y":457},{"s":"0","x":395.54,"y":497},{"s":"0","x":395.45,"y":437},{"s":"0","x":395.35,"y":387},{"s":"0","x":395.26,"y":427},{"s":"0","x":395.17,"y":497},{"s":"0","x":395.07,"y":387},{"s":"0","x":394.98,"y":427},{"s":"0","x":394.88,"y":457},{"s":"0","x":394.79,"y":417},{"s":"0","x":394.70,"y":457},{"s":"0","x":394.60,"y":417},{"s":"0","x":394.51,"y":427},{"s":"0","x":394.41,"y":457},{"s":"0","x":394.32,"y":417},{"s":"0","x":394.23,"y":497},{"s":"0","x":394.13,"y":397},{"s":"0","x":394.00,"y":417},
{"s":"3","x":410.00,"y":217},{"s":"3","x":409.91,"y":257},{"s":"3","x":409.79,"y":247},{"s":"3","x":409.64,"y":267},{"s":"3","x":409.49,"y":272},{"s":"3","x":409.36,"y":247},{"s":"3","x":409.27,"y":217},{"s":"3","x":409.12,"y":257},{"s":"3","x":408.98,"y":262},{"s":"3","x":408.85,"y":257},{"s":"3","x":408.70,"y":267},{"s":"3","x":408.55,"y":272},{"s":"3","x":408.42,"y":237},{"s":"3","x":408.29,"y":217},{"s":"3","x":408.14,"y":227},{"s":"3","x":407.95,"y":232},{"s":"3","x":407.76,"y":232},{"s":"3","x":407.57,"y":237},{"s":"3","x":407.39,"y":227},{"s":"3","x":407.24,"y":217},{"s":"3","x":407.10,"y":247},{"s":"3","x":406.97,"y":267},{"s":"3","x":406.82,"y":237},{"s":"3","x":406.67,"y":257},{"s":"3","x":406.54,"y":262},{"s":"3","x":406.41,"y":212},{"s":"3","x":406.26,"y":252},{"s":"3","x":406.11,"y":257},{"s":"3","x":405.98,"y":247},{"s":"3","x":405.79,"y":227},{"s":"3","x":405.66,"y":272},{"s":"3","x":405.54,"y":287},{"s":"3","x":405.41,"y":257},{"s":"3","x":405.28,"y":237},{"s":"3","x":405.13,"y":242},{"s":"3","x":404.94,"y":267},{"s":"3","x":404.79,"y":277},{"s":"3","x":404.66,"y":247},{"s":"3","x":404.53,"y":217},{"s":"3","x":404.38,"y":227},{"s":"3","x":404.23,"y":247},{"s":"3","x":404.10,"y":267},{"s":"3","x":403.91,"y":232},{"s":"3","x":403.72,"y":242},{"s":"3","x":403.53,"y":247},{"s":"3","x":403.34,"y":257},{"s":"3","x":403.16,"y":247},{"s":"3","x":403.06,"y":222},{"s":"3","x":402.87,"y":217},{"s":"3","x":402.72,"y":247},{"s":"3","x":402.59,"y":232},{"s":"3","x":402.46,"y":222},{"s":"3","x":402.35,"y":247},{"s":"3","x":402.22,"y":277},{"s":"3","x":402.08,"y":287},{"s":"3","x":401.93,"y":267},{"s":"3","x":401.78,"y":257},{"s":"3","x":401.65,"y":277},{"s":"3","x":401.52,"y":282},{"s":"3","x":401.41,"y":287},{"s":"3","x":401.28,"y":277},{"s":"3","x":401.09,"y":257},{"s":"3","x":400.90,"y":232},{"s":"3","x":400.77,"y":247},{"s":"3","x":400.62,"y":277},{"s":"3","x":400.47,"y":267},{"s":"3","x":400.34,"y":257},{"s":"3","x":400.20,"y":282},{"s":"3","x":400.05,"y":287},{"s":"3","x":399.92,"y":247},{"s":"3","x":399.77,"y":277},{"s":"3","x":399.64,"y":272},{"s":"3","x":399.49,"y":267},{"s":"3","x":399.34,"y":257},{"s":"3","x":399.21,"y":262},{"s":"3","x":399.02,"y":247},{"s":"3","x":398.83,"y":257},{"s":"3","x":398.64,"y":242},{"s":"3","x":398.46,"y":267},{"s":"3","x":398.32,"y":277},{"s":"3","x":398.17,"y":272},{"s":"3","x":397.99,"y":247},{"s":"3","x":397.80,"y":237},{"s":"3","x":397.61,"y":257},{"s":"3","x":397.42,"y":242},{"s":"3","x":397.27,"y":207},{"s":"3","x":397.14,"y":217},{"s":"3","x":397.01,"y":237},{"s":"3","x":396.86,"y":227},{"s":"3","x":396.71,"y":212},{"s":"3","x":396.58,"y":227},{"s":"3","x":396.44,"y":217},{"s":"3","x":396.29,"y":232},{"s":"3","x":396.11,"y":247},{"s":"3","x":395.96,"y":237},{"s":"3","x":395.82,"y":212},{"s":"3","x":395.64,"y":247},{"s":"3","x":395.50,"y":217},{"s":"3","x":395.35,"y":257},{"s":"3","x":395.20,"y":272},{"s":"3","x":395.07,"y":247},{"s":"3","x":394.94,"y":267},{"s":"3","x":394.79,"y":257},{"s":"3","x":394.64,"y":262},{"s":"3","x":394.51,"y":222},{"s":"3","x":394.38,"y":247},{"s":"3","x":394.23,"y":252},{"s":"3","x":394.11,"y":257},{"s":"3","x":394.00,"y":262},
{"s":"4","x":410.00,"y":47},{"s":"4","x":409.94,"y":97},{"s":"4","x":409.87,"y":27},{"s":"4","x":409.79,"y":77},{"s":"4","x":409.72,"y":17},{"s":"4","x":409.64,"y":67},{"s":"4","x":409.57,"y":37},{"s":"4","x":409.49,"y":77},{"s":"4","x":409.42,"y":47},{"s":"4","x":409.34,"y":67},{"s":"4","x":409.27,"y":27},{"s":"4","x":409.19,"y":67},{"s":"4","x":409.12,"y":47},{"s":"4","x":409.04,"y":77},{"s":"4","x":408.97,"y":47},{"s":"4","x":408.89,"y":67},{"s":"4","x":408.82,"y":57},{"s":"4","x":408.74,"y":72},{"s":"4","x":408.67,"y":97},{"s":"4","x":408.59,"y":47},{"s":"4","x":408.51,"y":77},{"s":"4","x":408.42,"y":67},{"s":"4","x":408.33,"y":87},{"s":"4","x":408.23,"y":57},{"s":"4","x":408.14,"y":37},{"s":"4","x":408.04,"y":67},{"s":"4","x":407.95,"y":32},{"s":"4","x":407.86,"y":82},{"s":"4","x":407.76,"y":57},{"s":"4","x":407.67,"y":77},{"s":"4","x":407.57,"y":47},{"s":"4","x":407.48,"y":72},{"s":"4","x":407.39,"y":67},{"s":"4","x":407.29,"y":47},{"s":"4","x":407.20,"y":107},{"s":"4","x":407.10,"y":72},{"s":"4","x":407.01,"y":97},{"s":"4","x":406.92,"y":47},{"s":"4","x":406.82,"y":67},{"s":"4","x":406.73,"y":57},{"s":"4","x":406.63,"y":77},{"s":"4","x":406.54,"y":57},{"s":"4","x":406.45,"y":67},{"s":"4","x":406.35,"y":47},{"s":"4","x":406.26,"y":82},{"s":"4","x":406.16,"y":67},{"s":"4","x":406.07,"y":92},{"s":"4","x":405.98,"y":57},{"s":"4","x":405.88,"y":47},{"s":"4","x":405.79,"y":77},{"s":"4","x":405.69,"y":57},{"s":"4","x":405.60,"y":87},{"s":"4","x":405.51,"y":47},{"s":"4","x":405.41,"y":67},{"s":"4","x":405.32,"y":27},{"s":"4","x":405.22,"y":77},{"s":"4","x":405.13,"y":57},{"s":"4","x":405.04,"y":82},{"s":"4","x":404.94,"y":57},{"s":"4","x":404.85,"y":67},{"s":"4","x":404.75,"y":47},{"s":"4","x":404.66,"y":97},{"s":"4","x":404.57,"y":57},{"s":"4","x":404.47,"y":87},{"s":"4","x":404.38,"y":57},{"s":"4","x":404.28,"y":72},{"s":"4","x":404.19,"y":37},{"s":"4","x":404.10,"y":77},{"s":"4","x":404.00,"y":57},{"s":"4","x":403.91,"y":67},{"s":"4","x":403.81,"y":27},{"s":"4","x":403.72,"y":72},{"s":"4","x":403.63,"y":57},{"s":"4","x":403.53,"y":67},{"s":"4","x":403.44,"y":77},{"s":"4","x":403.34,"y":57},{"s":"4","x":403.25,"y":67},{"s":"4","x":403.16,"y":37},{"s":"4","x":403.06,"y":67},{"s":"4","x":402.97,"y":57},{"s":"4","x":402.87,"y":77},{"s":"4","x":402.78,"y":57},{"s":"4","x":402.69,"y":107},{"s":"4","x":402.59,"y":67},{"s":"4","x":402.50,"y":87},{"s":"4","x":402.40,"y":57},{"s":"4","x":402.31,"y":67},{"s":"4","x":402.22,"y":52},{"s":"4","x":402.12,"y":82},{"s":"4","x":402.03,"y":57},{"s":"4","x":401.93,"y":97},{"s":"4","x":401.84,"y":67},{"s":"4","x":401.75,"y":57},{"s":"4","x":401.65,"y":77},{"s":"4","x":401.56,"y":57},{"s":"4","x":401.46,"y":87},{"s":"4","x":401.37,"y":57},{"s":"4","x":401.28,"y":72},{"s":"4","x":401.18,"y":57},{"s":"4","x":401.09,"y":87},{"s":"4","x":400.99,"y":57},{"s":"4","x":400.90,"y":97},{"s":"4","x":400.81,"y":67},{"s":"4","x":400.71,"y":47},{"s":"4","x":400.62,"y":87},{"s":"4","x":400.52,"y":67},{"s":"4","x":400.43,"y":87},{"s":"4","x":400.34,"y":107},{"s":"4","x":400.24,"y":67},{"s":"4","x":400.15,"y":97},{"s":"4","x":400.05,"y":77},{"s":"4","x":399.96,"y":57},{"s":"4","x":399.87,"y":97},{"s":"4","x":399.77,"y":57},{"s":"4","x":399.68,"y":77},{"s":"4","x":399.58,"y":57},{"s":"4","x":399.49,"y":87},{"s":"4","x":399.40,"y":67},{"s":"4","x":399.30,"y":102},{"s":"4","x":399.21,"y":67},{"s":"4","x":399.11,"y":82},{"s":"4","x":399.02,"y":57},{"s":"4","x":398.93,"y":87},{"s":"4","x":398.83,"y":67},{"s":"4","x":398.74,"y":92},{"s":"4","x":398.64,"y":57},{"s":"4","x":398.55,"y":77},{"s":"4","x":398.46,"y":67},{"s":"4","x":398.36,"y":97},{"s":"4","x":398.27,"y":57},{"s":"4","x":398.17,"y":87},{"s":"4","x":398.08,"y":67},{"s":"4","x":397.99,"y":82},{"s":"4","x":397.89,"y":57},{"s":"4","x":397.80,"y":72},{"s":"4","x":397.70,"y":57},{"s":"4","x":397.61,"y":107},{"s":"4","x":397.52,"y":57},{"s":"4","x":397.42,"y":77},{"s":"4","x":397.33,"y":57},{"s":"4","x":397.23,"y":87},{"s":"4","x":397.14,"y":47},{"s":"4","x":397.05,"y":77},{"s":"4","x":396.95,"y":57},{"s":"4","x":396.86,"y":112},{"s":"4","x":396.76,"y":67},{"s":"4","x":396.67,"y":87},{"s":"4","x":396.58,"y":57},{"s":"4","x":396.48,"y":77},{"s":"4","x":396.39,"y":47},{"s":"4","x":396.29,"y":87},{"s":"4","x":396.20,"y":67},{"s":"4","x":396.11,"y":57},{"s":"4","x":396.01,"y":82},{"s":"4","x":395.92,"y":37},{"s":"4","x":395.82,"y":67},{"s":"4","x":395.73,"y":57},{"s":"4","x":395.64,"y":77},{"s":"4","x":395.54,"y":47},{"s":"4","x":395.45,"y":87},{"s":"4","x":395.35,"y":27},{"s":"4","x":395.26,"y":67},{"s":"4","x":395.17,"y":97},{"s":"4","x":395.07,"y":57},{"s":"4","x":394.98,"y":77},{"s":"4","x":394.88,"y":47},{"s":"4","x":394.79,"y":67},{"s":"4","x":394.70,"y":57},{"s":"4","x":394.60,"y":77},{"s":"4","x":394.51,"y":107},{"s":"4","x":394.41,"y":57},{"s":"4","x":394.32,"y":67},{"s":"4","x":394.23,"y":47},{"s":"4","x":394.13,"y":87},{"s":"4","x":394.04,"y":67},{"s":"4","x":394.00,"y":57}
]
},
"spacing":36.3,
"bounds":"flush",
"hconcat":[
{
"width":283.3,"height":427,
"title":{"text":"Fe2p","anchor":"start","frame":"group","fontSize":20,"fontWeight":"bold","offset":-29},
"layer":[
{"data":{"name":"fe"},"mark":{"type":"line","strokeWidth":1.4},
"encoding":{
"x":{"field":"x","type":"quantitative","scale":{"domain":[700,730],"reverse":true,"nice":false,"zero":false},
"axis":{"values":[700,705,710,715,720,725,730],"title":null,"grid":false,"domain":false,"tickColor":"black","tickWidth":1.3,"tickSize":{"condition":{"test":"datum.value % 10 === 0","value":14},"value":7},"labelExpr":"datum.value % 10 === 0 ? datum.label : ''","labelFontSize":19,"labelColor":"black","labelPadding":5,"labelFlush":false,"labelOverlap":false,"labelBound":false}},
"y":{"field":"y","type":"quantitative","scale":{"domain":[0,1224],"nice":false,"zero":false},
"axis":{"title":"Photoelectron intensity / a.u.","titleFontSize":20.5,"titleFontWeight":"bold","titleColor":"black","labels":false,"ticks":false,"domain":false,"grid":false,"titlePadding":11}},
"color":{"field":"s","type":"nominal","scale":{"domain":["0","1","2","3","4"],"range":["#000000","#ff00ff","#009933","#0000ff","#ff0000"]},"legend":null}}},
{"data":{"values":[{"t":"(1)","x":728.31,"y":965},{"t":"(2)","x":728.31,"y":807},{"t":"(3)","x":728.31,"y":577},{"t":"(4)","x":728.31,"y":345}]},
"mark":{"type":"text","fontSize":18,"fontWeight":"bold","color":"black","align":"center","baseline":"middle"},
"encoding":{"x":{"field":"x","type":"quantitative"},"y":{"field":"y","type":"quantitative"},"text":{"field":"t"}}},
{"data":{"values":[{"x":715.28,"y":1010,"y2":913},{"x":709.71,"y":1257,"y2":1156},{"x":707.17,"y":1271,"y2":1171}]},
"mark":{"type":"rule","strokeWidth":1.5,"color":"black"},
"encoding":{"x":{"field":"x","type":"quantitative"},"y":{"field":"y","type":"quantitative"},"y2":{"field":"y2"}}},
{"data":{"values":[{"x":715.28,"y2":913},{"x":709.71,"y2":1156},{"x":707.17,"y2":1171}]},
"mark":{"type":"point","shape":"M-1,-2L0,0L1,-2","size":49,"filled":false,"color":"black","strokeWidth":1.5,"opacity":1},
"encoding":{"x":{"field":"x","type":"quantitative"},"y":{"field":"y2","type":"quantitative"}}},
{"data":{"values":[{"t":"Fe","x":714.69,"y":1044},{"t":"Fe","x":709.71,"y":1273},{"t":"Fe","x":705.75,"y":1285}]},
"mark":{"type":"text","fontSize":17.5,"fontWeight":"bold","color":"black","align":"right","baseline":"alphabetic"},
"encoding":{"x":{"field":"x","type":"quantitative"},"y":{"field":"y","type":"quantitative"},"text":{"field":"t"}}},
{"data":{"values":[{"t":"3+","x":714.69,"y":1044},{"t":"2+","x":709.71,"y":1273}]},
"mark":{"type":"text","fontSize":11,"fontWeight":"bold","color":"black","align":"left","baseline":"alphabetic","dy":-6},
"encoding":{"x":{"field":"x","type":"quantitative"},"y":{"field":"y","type":"quantitative"},"text":{"field":"t"}}},
{"data":{"values":[{"t":"m","x":705.75,"y":1285}]},
"mark":{"type":"text","fontSize":12,"fontWeight":"bold","color":"black","align":"left","baseline":"alphabetic","dy":4},
"encoding":{"x":{"field":"x","type":"quantitative"},"y":{"field":"y","type":"quantitative"},"text":{"field":"t"}}}
]
},
{
"width":283.3,"height":427,
"title":{"text":"O1s","anchor":"start","frame":"group","fontSize":20,"fontWeight":"bold","offset":-26},
"layer":[
{"data":{"name":"o"},"mark":{"type":"line","strokeWidth":1.4},
"encoding":{
"x":{"field":"x","type":"quantitative","scale":{"domain":[526,538],"reverse":true,"nice":false,"zero":false},
"axis":{"values":[526,528,530,532,534,536,538],"title":null,"grid":false,"domain":false,"tickColor":"black","tickWidth":1.3,"tickSize":{"condition":{"test":"(datum.value - 526) % 4 === 0","value":14},"value":7},"labelExpr":"(datum.value - 526) % 4 === 0 ? datum.label : ''","labelFontSize":19,"labelColor":"black","labelPadding":5,"labelFlush":false,"labelOverlap":false,"labelBound":false}},
"y":{"field":"y","type":"quantitative","scale":{"domain":[0,1224],"nice":false,"zero":false},"axis":null},
"color":{"field":"s","type":"nominal","scale":{"domain":["0","1","2","3","4"],"range":["#000000","#ff00ff","#009933","#0000ff","#ff0000"]},"legend":null}}},
{"data":{"values":[{"t":"(0)","x":537.3,"y":647},{"t":"(1)","x":537.3,"y":467},{"t":"(2)","x":537.3,"y":322},{"t":"(3)","x":537.25,"y":197},{"t":"(4)","x":537.25,"y":102}]},
"mark":{"type":"text","fontSize":18,"fontWeight":"bold","color":"black","align":"center","baseline":"middle"},
"encoding":{"x":{"field":"x","type":"quantitative"},"y":{"field":"y","type":"quantitative","axis":null},"text":{"field":"t"}}},
{"data":{"values":[{"x":530.27,"y":1266,"y2":1171},{"x":532.18,"y":986,"y2":887},{"x":534.93,"y":841,"y2":746}]},
"mark":{"type":"rule","strokeWidth":1.5,"color":"black"},
"encoding":{"x":{"field":"x","type":"quantitative"},"y":{"field":"y","type":"quantitative","axis":null},"y2":{"field":"y2"}}},
{"data":{"values":[{"x":530.27,"y2":1171},{"x":532.18,"y2":887},{"x":534.93,"y2":746}]},
"mark":{"type":"point","shape":"M-1,-2L0,0L1,-2","size":49,"filled":false,"color":"black","strokeWidth":1.5,"opacity":1},
"encoding":{"x":{"field":"x","type":"quantitative"},"y":{"field":"y2","type":"quantitative","axis":null}}},
{"data":{"values":[{"t":"Me-O\u0332 / P-O\u0332","x":530.43,"y":1276},{"t":"C-O\u0332","x":532.56,"y":1008},{"t":"C=O\u0332 / N-O\u0332","x":534.93,"y":868}]},
"mark":{"type":"text","fontSize":17.5,"fontWeight":"bold","color":"black","align":"center","baseline":"alphabetic"},
"encoding":{"x":{"field":"x","type":"quantitative"},"y":{"field":"y","type":"quantitative","axis":null},"text":{"field":"t"}}}
]
},
{
"width":283.3,"height":427,
"title":{"text":"P2p","anchor":"start","frame":"group","fontSize":20,"fontWeight":"bold","offset":6},
"layer":[
{"data":{"name":"p"},"mark":{"type":"line","strokeWidth":1.4},
"encoding":{
"x":{"field":"x","type":"quantitative","scale":{"domain":[128,140],"reverse":true,"nice":false,"zero":false},
"axis":{"values":[128,130,132,134,136,138,140],"title":null,"grid":false,"domain":false,"tickColor":"black","tickWidth":1.3,"tickSize":{"condition":{"test":"(datum.value - 128) % 4 === 0","value":14},"value":7},"labelExpr":"(datum.value - 128) % 4 === 0 ? datum.label : ''","labelFontSize":19,"labelColor":"black","labelPadding":5,"labelFlush":false,"labelOverlap":false,"labelBound":false}},
"y":{"field":"y","type":"quantitative","scale":{"domain":[0,1224],"nice":false,"zero":false},"axis":null},
"color":{"field":"s","type":"nominal","scale":{"domain":["0","1","2","3","4"],"range":["#000000","#ff00ff","#009933","#0000ff","#ff0000"]},"legend":null}}},
{"data":{"values":[{"t":"(0)","x":139.14,"y":519},{"t":"(3)","x":139.11,"y":287},{"t":"(4)","x":139.18,"y":102}]},
"mark":{"type":"text","fontSize":18,"fontWeight":"bold","color":"black","align":"center","baseline":"middle"},
"encoding":{"x":{"field":"x","type":"quantitative"},"y":{"field":"y","type":"quantitative","axis":null},"text":{"field":"t"}}},
{"data":{"values":[{"x":133.99,"y":1052,"y2":952}]},
"mark":{"type":"rule","strokeWidth":1.5,"color":"black"},
"encoding":{"x":{"field":"x","type":"quantitative"},"y":{"field":"y","type":"quantitative","axis":null},"y2":{"field":"y2"}}},
{"data":{"values":[{"x":133.99,"y2":952}]},
"mark":{"type":"point","shape":"M-1,-2L0,0L1,-2","size":49,"filled":false,"color":"black","strokeWidth":1.5,"opacity":1},
"encoding":{"x":{"field":"x","type":"quantitative"},"y":{"field":"y2","type":"quantitative","axis":null}}},
{"data":{"values":[{"t":"P\u0332-O","x":133.6,"y":1077}]},
"mark":{"type":"text","fontSize":17.5,"fontWeight":"bold","color":"black","align":"center","baseline":"alphabetic"},
"encoding":{"x":{"field":"x","type":"quantitative"},"y":{"field":"y","type":"quantitative","axis":null},"text":{"field":"t"}}}
]
},
{
"width":283.3,"height":427,
"title":{"text":"N1s","anchor":"start","frame":"group","fontSize":20,"fontWeight":"bold","offset":6},
"layer":[
{"data":{"name":"n"},"mark":{"type":"line","strokeWidth":1.4},
"encoding":{
"x":{"field":"x","type":"quantitative","scale":{"domain":[394,410],"reverse":true,"nice":false,"zero":false},
"axis":{"values":[394,396,398,400,402,404,406,408,410],"title":null,"grid":false,"domain":false,"tickColor":"black","tickWidth":1.3,"tickSize":{"condition":{"test":"(datum.value - 394) % 4 === 0","value":14},"value":7},"labelExpr":"(datum.value - 394) % 4 === 0 ? datum.label : ''","labelFontSize":19,"labelColor":"black","labelPadding":5,"labelFlush":false,"labelOverlap":false,"labelBound":false}},
"y":{"field":"y","type":"quantitative","scale":{"domain":[0,1224],"nice":false,"zero":false},"axis":null},
"color":{"field":"s","type":"nominal","scale":{"domain":["0","1","2","3","4"],"range":["#000000","#ff00ff","#009933","#0000ff","#ff0000"]},"legend":null}}},
{"data":{"values":[{"t":"(0)","x":408.98,"y":602},{"t":"(3)","x":409.0,"y":307},{"t":"(4)","x":409.0,"y":137}]},
"mark":{"type":"text","fontSize":18,"fontWeight":"bold","color":"black","align":"center","baseline":"middle"},
"encoding":{"x":{"field":"x","type":"quantitative"},"y":{"field":"y","type":"quantitative","axis":null},"text":{"field":"t"}}},
{"data":{"values":[{"x":404.94,"y":792,"y2":692},{"x":397.85,"y":952,"y2":852}]},
"mark":{"type":"rule","strokeWidth":1.5,"color":"black"},
"encoding":{"x":{"field":"x","type":"quantitative"},"y":{"field":"y","type":"quantitative","axis":null},"y2":{"field":"y2"}}},
{"data":{"values":[{"x":404.94,"y2":692},{"x":397.85,"y2":852}]},
"mark":{"type":"point","shape":"M-1,-2L0,0L1,-2","size":49,"filled":false,"color":"black","strokeWidth":1.5,"opacity":1},
"encoding":{"x":{"field":"x","type":"quantitative"},"y":{"field":"y2","type":"quantitative","axis":null}}},
{"data":{"values":[{"t":"N\u0332-O","x":403.43,"y":817}]},
"mark":{"type":"text","fontSize":17.5,"fontWeight":"bold","color":"black","align":"right","baseline":"alphabetic"},
"encoding":{"x":{"field":"x","type":"quantitative"},"y":{"field":"y","type":"quantitative","axis":null},"text":{"field":"t"}}},
{"data":{"values":[{"t":"x","x":403.43,"y":817}]},
"mark":{"type":"text","fontSize":12,"fontWeight":"bold","color":"black","align":"left","baseline":"alphabetic","dy":4},
"encoding":{"x":{"field":"x","type":"quantitative"},"y":{"field":"y","type":"quantitative","axis":null},"text":{"field":"t"}}},
{"data":{"values":[{"t":"N\u0332-C","x":397.42,"y":985}]},
"mark":{"type":"text","fontSize":17.5,"fontWeight":"bold","color":"black","align":"center","baseline":"alphabetic"},
"encoding":{"x":{"field":"x","type":"quantitative"},"y":{"field":"y","type":"quantitative","axis":null},"text":{"field":"t"}}}
]
}
]
}
